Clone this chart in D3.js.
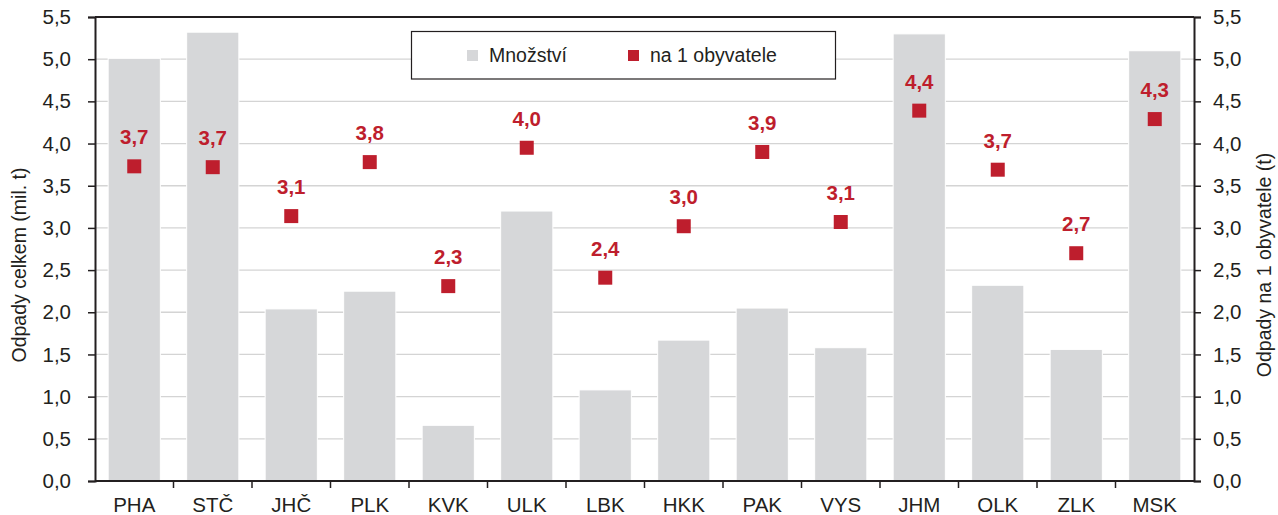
<!DOCTYPE html>
<html><head><meta charset="utf-8">
<script src="https://cdn.jsdelivr.net/npm/d3@7"></script>
<style>body{margin:0;background:#fff}svg{display:block}text{font-family:"Liberation Sans",Arial,sans-serif}</style>
</head><body><svg id="c" width="1278" height="515"></svg>
<script>
const categories = ["PHA","STČ","JHČ","PLK","KVK","ULK","LBK","HKK","PAK","VYS","JHM","OLK","ZLK","MSK"];
const totals = [5.01,5.32,2.04,2.25,0.66,3.20,1.08,1.67,2.05,1.58,5.30,2.32,1.56,5.10];
const perCapita = [3.73,3.72,3.14,3.78,2.31,3.95,2.41,3.02,3.90,3.07,4.39,3.69,2.70,4.29];
const perCapitaLabels = ["3,7","3,7","3,1","3,8","2,3","4,0","2,4","3,0","3,9","3,1","4,4","3,7","2,7","4,3"];
const tickValues = [0,0.5,1,1.5,2,2.5,3,3.5,4,4.5,5,5.5];
const seriesNames = ["Množství","na 1 obyvatele"];

const svg = d3.select("#c");
const L=95, R=1194, T=17, B=481;
const FS = 19.5, TFS = 20.5;
const x = d3.scaleBand().domain(categories).range([L,R]).paddingInner(0.335).paddingOuter(0.1675);
const y = d3.scaleLinear().domain([0,5.5]).range([B,T]);
const y2 = d3.scaleLinear().domain([0,5.5]).range([B,T]);
const fmt = d => d3.format(".1f")(d).replace(".",",");
const dark="#231f20", grey="#d6d7d9", red="#be1e2d";

// gridlines
svg.append("g").selectAll("line").data(tickValues.slice(1,-1)).join("line")
  .attr("x1",L).attr("x2",R).attr("y1",d=>y(d)).attr("y2",d=>y(d))
  .attr("stroke","#d4d4d4").attr("stroke-width",1.3);

// bars
svg.append("g").selectAll("rect").data(totals).join("rect")
  .attr("x",(d,i)=>x(categories[i])).attr("width",x.bandwidth())
  .attr("y",d=>y(d)).attr("height",d=>B-y(d))
  .attr("fill",grey).attr("stroke","#fff").attr("stroke-width",1);

// top border
svg.append("line").attr("x1",L).attr("x2",R).attr("y1",T).attr("y2",T).attr("stroke",dark).attr("stroke-width",2);

// left axis
const ga = svg.append("g").attr("transform",`translate(${L},0)`)
  .call(d3.axisLeft(y).tickValues(tickValues).tickFormat(fmt).tickSize(7).tickPadding(17));
const gb = svg.append("g").attr("transform",`translate(${R},0)`)
  .call(d3.axisRight(y2).tickValues(tickValues).tickFormat(fmt).tickSize(7).tickPadding(12));
// x axis
const gx = svg.append("g").attr("transform",`translate(0,${B})`)
  .call(d3.axisBottom(x).tickSize(0).tickPadding(16));
gx.selectAll(".tick text").attr("dy","0.71em");
// ticks between categories
const step = x.step();
const bounds = d3.range(1,categories.length).map(i=>L + x.paddingOuter()*step - x.paddingInner()*step/2 + i*step);
gx.append("g").selectAll("line").data(bounds).join("line")
  .attr("x1",d=>d).attr("x2",d=>d).attr("y1",0).attr("y2",7).attr("stroke",dark).attr("stroke-width",1.5);

[ga,gb,gx].forEach(g=>{
  g.attr("font-size",TFS).attr("font-family","Liberation Sans, Arial, sans-serif");
  g.selectAll(".domain").attr("stroke",dark).attr("stroke-width",2);
  g.selectAll(".tick line").attr("stroke",dark).attr("stroke-width",1.5);
  g.selectAll("text").attr("font-size",TFS).attr("fill",dark);
});
gx.select(".domain").attr("d",`M${L},0H${R}`);

// markers
const ms=14;
svg.append("g").selectAll("rect").data(perCapita).join("rect")
  .attr("x",(d,i)=>x(categories[i])+x.bandwidth()/2-ms/2).attr("y",d=>y2(d)-ms/2)
  .attr("width",ms).attr("height",ms).attr("fill",red);
svg.append("g").selectAll("text").data(perCapita).join("text")
  .attr("x",(d,i)=>x(categories[i])+x.bandwidth()/2).attr("y",d=>y2(d)-22)
  .attr("text-anchor","middle").attr("font-size",20.5).attr("font-weight","bold").attr("fill",red)
  .text((d,i)=>perCapitaLabels[i]);

// axis titles
svg.append("text").attr("transform",`translate(26,${(T+B)/2+16}) rotate(-90)`).attr("text-anchor","middle")
  .attr("font-size",FS).attr("fill",dark).text("Odpady celkem (mil. t)");
svg.append("text").attr("transform",`translate(1271,${(T+B)/2+16}) rotate(-90)`).attr("text-anchor","middle")
  .attr("font-size",FS).attr("fill",dark).text("Odpady na 1 obyvatele (t)");

// legend
const lg = svg.append("g");
lg.append("rect").attr("x",411.5).attr("y",31.5).attr("width",424).attr("height",47.5).attr("fill","#fff").attr("stroke",dark).attr("stroke-width",1.2);
lg.append("rect").attr("x",467).attr("y",50).attr("width",11).attr("height",11).attr("fill",grey);
lg.append("text").attr("x",489).attr("y",62).attr("font-size",FS).attr("fill",dark).text(seriesNames[0]);
lg.append("rect").attr("x",628).attr("y",50).attr("width",11).attr("height",11).attr("fill",red);
lg.append("text").attr("x",650).attr("y",62).attr("font-size",FS).attr("fill",dark).text(seriesNames[1]);
</script></body></html>
